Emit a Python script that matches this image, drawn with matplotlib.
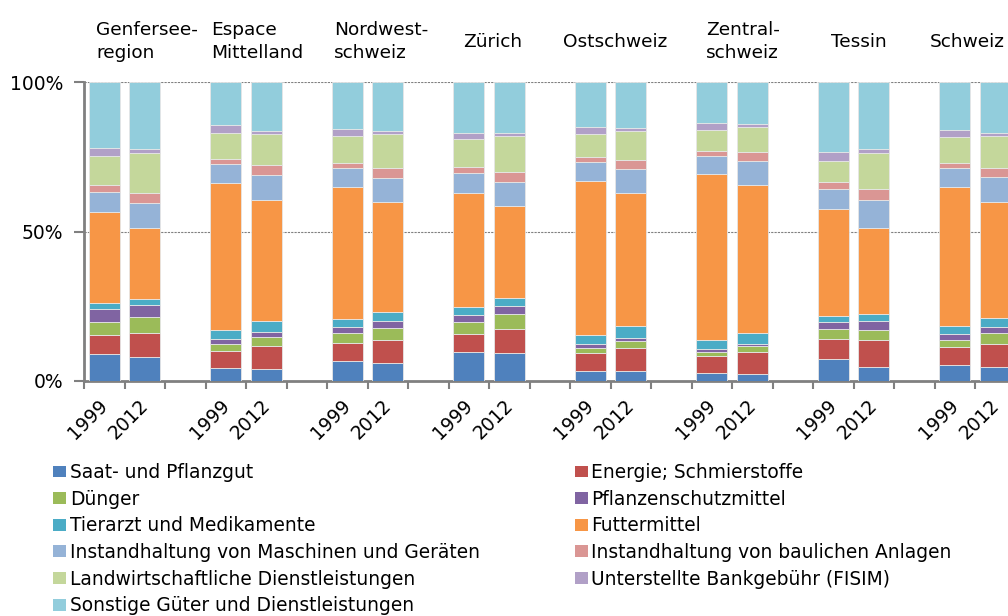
import matplotlib
matplotlib.use("Agg")
import matplotlib.pyplot as plt
import matplotlib.transforms as mtransforms
from matplotlib.patches import Patch
from matplotlib.ticker import FixedLocator

plt.rcParams['font.family'] = ['DejaVu Sans']

regions = ['Genfersee-\nregion', 'Espace\nMittelland', 'Nordwest-\nschweiz', 'Zürich',
           'Ostschweiz', 'Zentral-\nschweiz', 'Tessin', 'Schweiz']
years = ['1999', '2012']

# shares in % per bar: G99, G12, E99, E12, N99, N12, Z99, Z12, O99, O12, C99, C12, T99, T12, S99, S12
saat = [8.9, 7.9, 4.4, 4.1, 6.8, 6.0, 9.6, 9.5, 3.5, 3.2, 2.7, 2.2, 7.4, 4.8, 5.2, 4.8]
energie = [6.6, 8.3, 5.8, 7.7, 6.0, 7.7, 6.2, 7.9, 6.0, 7.8, 5.8, 7.6, 6.7, 9.0, 6.1, 7.6]
duenger = [4.3, 5.2, 2.1, 2.9, 3.2, 3.9, 3.8, 5.1, 1.7, 2.4, 1.3, 1.8, 3.3, 3.3, 2.4, 3.6]
pflanzenschutz = [4.4, 3.9, 1.9, 1.7, 2.2, 2.3, 2.6, 2.7, 1.3, 1.1, 1.0, 0.9, 2.2, 2.8, 2.1, 1.9]
tierarzt = [1.9, 2.2, 2.9, 3.6, 2.7, 3.1, 2.5, 2.7, 2.9, 3.8, 3.0, 3.7, 2.3, 2.6, 2.7, 3.1]
futter = [30.3, 23.6, 49.1, 40.7, 43.9, 36.7, 38.1, 30.6, 51.5, 44.5, 55.3, 49.4, 35.5, 28.8, 46.3, 39.0]
inst_masch = [6.8, 8.3, 6.3, 8.2, 6.3, 8.2, 6.7, 7.9, 6.2, 8.1, 6.0, 7.9, 6.8, 9.2, 6.3, 8.2]
inst_bau = [2.4, 3.5, 1.9, 3.2, 1.9, 3.2, 2.0, 3.4, 1.9, 2.9, 1.8, 3.0, 2.2, 3.6, 1.9, 3.1]
lw_dl = [9.8, 13.4, 8.6, 10.6, 9.1, 11.5, 9.3, 12.2, 7.7, 9.8, 7.1, 8.3, 7.3, 12.0, 8.6, 10.8]
fisim = [2.4, 1.2, 2.5, 1.0, 2.2, 1.1, 2.1, 1.0, 2.3, 0.9, 2.3, 1.2, 3.0, 1.4, 2.3, 1.0]
sonstige = [22.2, 22.5, 14.5, 16.3, 15.7, 16.3, 17.1, 17.0, 15.0, 15.5, 13.7, 14.0, 23.3, 22.5, 16.1, 16.9]

series = [
    ('Saat- und Pflanzgut', saat, '#4F81BD'),
    ('Energie; Schmierstoffe', energie, '#C0504D'),
    ('Dünger', duenger, '#9BBB59'),
    ('Pflanzenschutzmittel', pflanzenschutz, '#8064A2'),
    ('Tierarzt und Medikamente', tierarzt, '#4BACC6'),
    ('Futtermittel', futter, '#F79646'),
    ('Instandhaltung von Maschinen und Geräten', inst_masch, '#95B3D7'),
    ('Instandhaltung von baulichen Anlagen', inst_bau, '#DA9694'),
    ('Landwirtschaftliche Dienstleistungen', lw_dl, '#C4D79B'),
    ('Unterstellte Bankgebühr (FISIM)', fisim, '#B1A0C7'),
    ('Sonstige Güter und Dienstleistungen', sonstige, '#92CDDC'),
]

# bar positions: two bars per region, then an empty slot
xpos = []
xlabels = []
for i in range(len(regions)):
    for j, y in enumerate(years):
        xpos.append(3 * i + j)
        xlabels.append(y)

fig = plt.figure(figsize=(10.08, 6.16), dpi=100)
ax = fig.add_axes([84 / 1008, 235 / 616, 972 / 1008, 299 / 616])

bottom = [0.0] * len(xpos)
handles = []
for name, vals, col in series:
    ax.bar(xpos, vals, width=0.76, bottom=bottom, color=col,
           edgecolor='#e6e6e6', linewidth=0.6, zorder=3)
    bottom = [b + v for b, v in zip(bottom, vals)]
    handles.append(Patch(facecolor=col, label=name))

ax.set_xlim(-0.5, 3 * len(regions) - 0.5)
ax.set_ylim(0, 100)
ax.set_yticks([0, 50, 100])
ax.set_yticklabels(['0%', '50%', '100%'], fontsize=13.5)
ax.yaxis.grid(True, linestyle=(0, (2, 1)), color='#808080', linewidth=0.8, zorder=0)
ax.set_xticks(xpos)
ax.set_xticklabels(xlabels, rotation=45, ha='right', rotation_mode='anchor', fontsize=13.5)
ax.tick_params(axis='x', which='major', length=0, pad=11)
shift = mtransforms.ScaledTranslation(-6 / 100, 0, fig.dpi_scale_trans)
for lab in ax.get_xticklabels():
    lab.set_transform(lab.get_transform() + shift)
ax.xaxis.set_minor_locator(FixedLocator([k - 0.5 for k in range(3 * len(regions) + 1)]))
ax.tick_params(axis='x', which='minor', length=6, width=1.5, color='#808080', direction='out')
ax.tick_params(axis='y', length=7, width=1.5, color='#808080', direction='out', pad=8)
for s in ['top', 'right']:
    ax.spines[s].set_visible(False)
for s in ['left', 'bottom']:
    ax.spines[s].set_color('#808080')
    ax.spines[s].set_linewidth(2)

label_x = [-0.2, 2.64, 5.67, 8.86, 11.33, 14.86, 17.94, 20.39]
for lx, name in zip(label_x, regions):
    ax.text(lx, 113.5, name, ha='left', va='center', fontsize=13.3,
            linespacing=1.4, clip_on=False)

order = [0, 2, 4, 6, 8, 10, 1, 3, 5, 7, 9]
fig.legend([handles[k] for k in order], [handles[k].get_label() for k in order],
           ncol=2, loc='upper left', bbox_to_anchor=(53 / 1008, 1 - 463 / 616),
           frameon=False, fontsize=13.4, handlelength=0.7, handleheight=0.6,
           handletextpad=0.2, labelspacing=0.41, columnspacing=5.1,
           borderaxespad=0, borderpad=0)

fig.savefig('out.png', dpi=100)
